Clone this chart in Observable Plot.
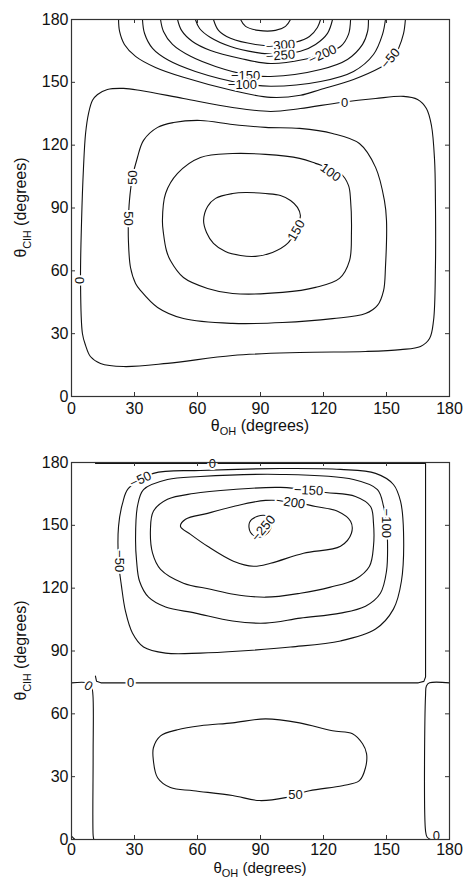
<!DOCTYPE html>
<html><head><meta charset="utf-8">
<script src="https://cdn.jsdelivr.net/npm/d3@7"></script>
<script src="https://cdn.jsdelivr.net/npm/@observablehq/plot@0.6"></script>
<style>
body{margin:0;background:#fff;}
#c svg{display:block;overflow:visible;}
</style></head><body><div id="c"></div>
<script>
// axis ticks (degrees)
const tickValues = [0, 30, 60, 90, 120, 150, 180];
const tickLabels = ["0", "30", "60", "90", "120", "150", "180"];

// ---------- top panel contours: [θOH, θClH] ----------
const top150 = [[62.9,84],[64.3,78.3],[67.6,73.1],[73.3,69.2],[80.5,67.3],[87.6,66.9],[95.7,68.8],[102.9,73.1],[106.7,79.3],[109,86.4],[107.6,90.3],[104.3,93.6],[99.5,96],[92.4,96.9],[82.9,97.4],[76.7,96.9],[68.6,94.6],[64.8,90.7]];
const top100 = [[43.3,84],[43.8,77.8],[45.2,69.7],[47.1,64.9],[53.3,56.8],[64.8,51.6],[76.7,49.2],[100.5,49.7],[116.2,52.1],[127.6,56.4],[132.4,64.9],[133.3,77.8],[132.9,93.6],[131.9,100.8],[128.1,106.5],[116.2,111.3],[108.6,113.7],[92.4,115.6],[76.7,116],[61.4,114.1],[50.5,106.5],[44.8,96.9]];
const top50 = [[27.1,74.5],[28.1,61.6],[30.5,54],[32.9,50.6],[41,42.5],[53.3,37.2],[76.7,34.9],[100.5,35.3],[124.3,37.2],[140,39.6],[145.7,43.5],[148.6,50.6],[149.5,61.6],[150,84],[149,93.6],[144.8,109.4],[137.1,120.8],[124.3,125.6],[108.6,128],[92.4,128.5],[76.7,129.9],[61.4,131.8],[48.6,130.8],[41,128.5],[34.3,122.3],[31.4,114.1],[29,104.6],[27.6,93.6],[27.1,84]];
const top0 = [[5.2,30.1],[4.3,55.4],[4.8,84],[5.7,109],[6.7,125.6],[8.1,135.1],[10,141.4],[12.4,144.2],[17.1,146.6],[24.8,147.1],[32.9,146.1],[53.3,142.3],[76.7,138],[94.8,136.1],[109,137.5],[128.1,140.4],[144.8,142.3],[158.1,143.3],[164.8,141.8],[169,137.5],[171.4,129.4],[172.9,112.7],[173.3,93.6],[173.3,61.6],[172.4,36.3],[170.5,27.7],[166.2,23.9],[156.7,22.4],[140,21.5],[108.6,21],[76.7,19.6],[45.7,15.8],[24.8,14.3],[13.8,15.8],[9,19.1],[6.7,24.4]];
const topM50 = [[22.4,180],[22.9,174.3],[25.2,168.1],[30.5,162.4],[40,157.1],[53.3,152.4],[76.7,146.1],[94.8,142.8],[109,143.8],[118.6,146.6],[134.3,151.4],[147.1,157.1],[152.9,160.9],[155.7,166.1],[158.1,173.2],[159,180]];
const topM100 = [[33.8,180],[34.8,173.3],[38.6,166.2],[46.2,160.5],[59,155.2],[81.4,149.5],[94.8,148.1],[118.6,150.4],[134.3,155.2],[143.8,163.3],[148.1,172.9],[149.5,180]];
const topM150 = [[42.4,180],[43.8,174.3],[48.1,168.1],[56.7,162.4],[68.6,157.6],[82.9,153.8],[94.8,152.8],[118.6,156.1],[131.4,160.9],[138.6,168.1],[141,174.3],[141.4,180]];
const topM200 = [[50.5,180],[52.4,174.8],[57.6,169.5],[66.2,165.2],[80.5,161.4],[94.8,159],[110.5,160.9],[120,163.8],[128.1,167.1],[131.9,172.9],[132.9,180]];
const topM250 = [[59,180],[61,175.7],[66.2,171.4],[75.7,167.1],[87.6,164.3],[99.5,163.3],[109,164.8],[116.2,168.1],[121.9,173.4],[124.3,180]];
const topM300 = [[67.6,180],[70,174.8],[75.7,171],[87.6,168.1],[98.6,167.6],[106.7,169.1],[113.3,171.9],[117.1,176.2],[118.6,180]];
const topM350 = [[80.5,180],[82.9,176.7],[89,174.8],[97.1,174.8],[101.9,176.7],[104.3,180]];

const topLabelX = [99.5, 99.5, 119.5, 82.9, 81.4, 151.9, 130, 3.8, 29, 27.1, 123.3, 107.1];
const topLabelY = [167.6, 162.8, 163.3, 153.3, 149, 161.4, 140.4, 55.4, 104.6, 85, 107, 79.3];
const topLabelText = ["\u2212300", "\u2212250", "\u2212200", "\u2212150", "\u2212100", "\u221250", "0", "0", "50", "50", "100", "150"];
const topLabelAngle = [-5, -5, -25, 0, 0, -50, 0, 90, -90, 90, 35, -60];

// ---------- bottom panel contours ----------
const bot50 = [[76.7,55.7],[61.4,54.3],[50.5,52.4],[42.4,49.5],[39,43.8],[39,37.6],[41,29.5],[47.1,24.8],[58.1,23.3],[76.7,21],[89.5,18.6],[101.9,20],[113.3,23.3],[129,25.7],[137.1,28.1],[140,34.3],[140.5,41],[138.6,45.7],[133.8,50.5],[124.3,51.9],[108.6,55.7],[92.4,57.6]];
const botM50 = [[39,174.8],[27.1,167.6],[24.3,160.5],[22.4,149.5],[22.4,132.9],[23.8,121],[25.7,109],[29,98.6],[34.3,91.9],[44.8,89],[61.4,89],[80.5,90],[104.3,91.9],[128.1,94.8],[144.8,100.5],[153.3,110],[157.1,123.3],[158.1,147.1],[156.7,161.4],[153.3,169.5],[144.8,174.8],[128.1,176.7],[99.5,177.1],[61.4,176.2]];
const botM100 = [[45.7,171.9],[34.3,167.1],[31.4,159],[30.5,143.3],[31,132.9],[32.4,123.3],[36.7,115.7],[44.8,111],[59,108.1],[76.7,104.3],[92.4,103.3],[109,105.7],[128.1,108.1],[140,111.4],[147.1,117.6],[150,128.1],[150.5,141.4],[150,151],[148.6,159],[145.7,167.1],[134.3,171.9],[99.5,174.3],[61.4,173.3]];
const botM150 = [[58.1,165.2],[45.7,162.4],[39,156.7],[37.6,148.1],[38.6,136.7],[42.4,129],[53.3,122.4],[66.2,119.5],[77.1,117.1],[92.4,115.7],[109,117.6],[123.3,120.5],[135.2,124.3],[141.9,130.5],[143.8,140],[143.8,151],[142.4,159],[135.2,163.8],[121,165.7],[99.5,168.1],[77.1,167.1]];
const botM200 = [[51.9,149.5],[54.3,152.9],[64.8,155.7],[77.1,159],[92.4,161.9],[104.3,161.4],[116.2,159],[126.7,156.7],[132.9,151.9],[133.3,146.2],[128.1,140],[110.5,136.7],[94.8,131.9],[86.7,130.5],[77.1,132.9],[64.8,140],[56.7,145.7]];
const botM250 = [[93.3,154.3],[88.6,154.3],[84.8,151.4],[85.2,146.7],[89,144.3],[93.8,146.7],[95.2,151]];
const bot0a = [[11.4,179.5],[168.6,179.5],[168.6,77.6],[167.8,75.5],[165.2,74.8],[14,74.8],[11.9,75.6],[11.4,78]];
const bot0b = [[0,74.8],[7.6,74.8],[9.5,73.3],[10.2,69],[10.3,40],[10.3,2],[10.6,0]];
const bot0c = [[180,74.8],[170.5,74.8],[169,73.3],[168.6,69],[168.6,4],[169.3,1.2],[171,0]];
const bot0d = [[0,1.6],[0.8,0.8],[1.6,0]];

const botLabelX = [32.9, 22.9, 112.9, 104.3, 91.4, 150, 67.1, 28.1, 8.1, 173.8, 106.7];
const botLabelY = [171.9, 132.9, 166.7, 161, 148.6, 151, 179.5, 74.8, 73.3, 1.6, 21.4];
const botLabelText = ["\u221250", "\u221250", "\u2212150", "\u2212200", "\u2212250", "\u2212100", "0", "0", "0", "0", "50"];
const botLabelAngle = [-25, 90, 3, 8, -50, 90, 0, 0, 30, 0, 0];

// ---------- drawing ----------
const W = 464, ML = 71, MR = 15;
const ink = "#111";

function toRows(list) {
  const rows = [];
  list.forEach((pts, id) => pts.forEach(([x, y]) => rows.push({id, x, y})));
  return rows;
}

function panel({closed, open, linear, lx, ly, lt, la, height, mt, mb, titleGap, titleSize, xPad}) {
  const plotH = height - mt - mb, plotW = W - ML - MR;
  const labels = lx.map((x, i) => ({x, y: ly[i], t: lt[i], r: la[i]}));
  const line = (rows, curve) => Plot.line(rows, {x: "x", y: "y", z: "id", curve, stroke: ink, strokeWidth: 1.1});
  const svg = Plot.plot({
    width: W, height, marginLeft: ML, marginRight: MR, marginTop: mt, marginBottom: mb,
    style: {fontFamily: "'Liberation Sans', Arial, Helvetica, sans-serif", background: "none", color: ink, overflow: "visible"},
    x: {domain: [0, 180]},
    y: {domain: [0, 180]},
    marks: [
      line(toRows(closed), "catmull-rom-closed"),
      line(toRows(open), "catmull-rom"),
      line(toRows(linear), "linear"),
      Plot.text(labels, {x: "x", y: "y", text: "t", rotate: "r", fontSize: 13, fill: ink, stroke: "white", strokeWidth: 4, paintOrder: "stroke"}),
      Plot.frame({stroke: "#333", strokeWidth: 1.2}),
      Plot.tickX(tickValues, {x: d => d, insetTop: plotH - 4, stroke: "#333"}),
      Plot.tickX(tickValues, {x: d => d, insetBottom: plotH - 4, stroke: "#333"}),
      Plot.tickY(tickValues, {y: d => d, insetRight: plotW - 4, stroke: "#333"}),
      Plot.tickY(tickValues, {y: d => d, insetLeft: plotW - 4, stroke: "#333"}),
      Plot.axisX({ticks: tickValues, tickFormat: d => tickLabels[tickValues.indexOf(d)], tickSize: 0, tickPadding: xPad, label: null, fontSize: 16}),
      Plot.axisY({ticks: tickValues, tickFormat: d => tickLabels[tickValues.indexOf(d)], tickSize: 0, tickPadding: 3, label: null, fontSize: 16})
    ]
  });
  const s = d3.select(svg);
  const bottom = height - mb;
  // x axis title
  const tx = s.append("text").attr("x", ML + plotW / 2).attr("y", bottom + titleGap)
    .attr("text-anchor", "middle").attr("font-size", titleSize).attr("fill", ink);
  tx.append("tspan").text("\u03b8");
  tx.append("tspan").attr("font-size", 11).attr("dy", 4).text("OH");
  tx.append("tspan").attr("dy", -4).text(" (degrees)");
  // y axis title
  const ty = s.append("text").attr("transform", `translate(26,${mt + plotH / 2}) rotate(-90)`)
    .attr("text-anchor", "middle").attr("font-size", 16).attr("fill", ink);
  ty.append("tspan").text("\u03b8");
  ty.append("tspan").attr("font-size", 11).attr("dy", 5).text("ClH");
  ty.append("tspan").attr("dy", -5).text(" (degrees)");
  return svg;
}

const c = document.getElementById("c");
c.appendChild(panel({
  closed: [top150, top100, top50, top0],
  open: [topM50, topM100, topM150, topM200, topM250, topM300, topM350],
  linear: [],
  lx: topLabelX, ly: topLabelY, lt: topLabelText, la: topLabelAngle,
  height: 440, mt: 19, mb: 44, titleGap: 35, titleSize: 16, xPad: 6
}));
c.appendChild(panel({
  closed: [bot50, botM50, botM100, botM150, botM200, botM250],
  open: [bot0b, bot0c, bot0d],
  linear: [bot0a],
  lx: botLabelX, ly: botLabelY, lt: botLabelText, la: botLabelAngle,
  height: 438, mt: 22, mb: 39, titleGap: 34, titleSize: 15, xPad: 4
}));
</script></body></html>
